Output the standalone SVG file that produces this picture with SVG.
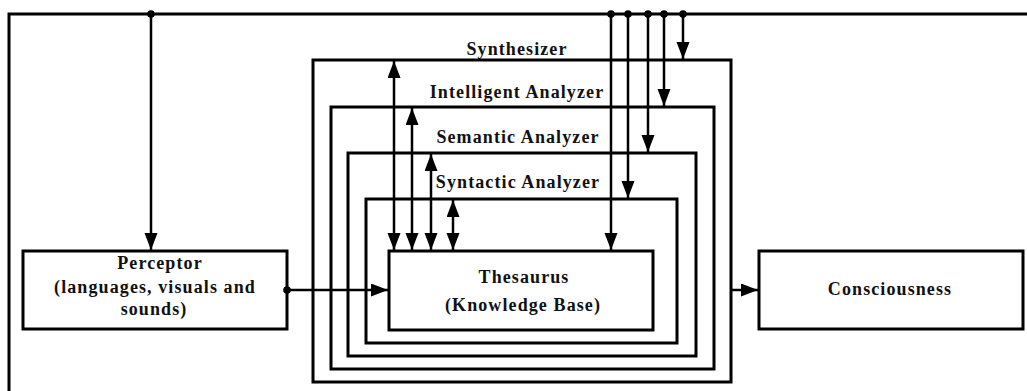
<svg xmlns="http://www.w3.org/2000/svg" width="1027" height="391" viewBox="0 0 1027 391">
  <defs>
    <marker id="arrow" markerUnits="userSpaceOnUse" markerWidth="18" markerHeight="14" refX="17" refY="6.5" orient="auto-start-reverse">
      <path d="M0,0 L17,6.5 L0,13 z" fill="#000"/>
    </marker>
  </defs>
  <style>
    .box { fill: #fff; stroke: #000; stroke-width: 3; }
    .frame { fill: none; stroke: #000; stroke-width: 3; }
    .wire { fill: none; stroke: #000; stroke-width: 2.5; }
    .arr { marker-end: url(#arrow); }
    .dbl { marker-start: url(#arrow); marker-end: url(#arrow); }
    .dot { fill: #000; }
    text { font-family: "Liberation Serif", "Times New Roman", serif; font-weight: bold; font-size: 18px; fill: #111; text-anchor: middle; letter-spacing: 1.1px; }
  </style>

  <!-- nested processing layers -->
  <g id="synthesizer">
    <rect class="box" x="313" y="60" width="418" height="322"/>
    <text x="517" y="55">Synthesizer</text>
  </g>
  <g id="intelligent-analyzer">
    <rect class="box" x="331" y="107" width="383" height="262"/>
    <text x="517" y="98">Intelligent Analyzer</text>
  </g>
  <g id="semantic-analyzer">
    <rect class="box" x="348" y="153" width="348" height="203"/>
    <text x="518" y="143">Semantic Analyzer</text>
  </g>
  <g id="syntactic-analyzer">
    <rect class="box" x="366" y="199" width="311" height="144"/>
    <text x="518" y="188">Syntactic Analyzer</text>
  </g>
  <g id="thesaurus">
    <rect class="box" x="389" y="251" width="264" height="79"/>
    <text x="524" y="283">Thesaurus</text>
    <text x="523" y="311">(Knowledge Base)</text>
  </g>

  <g id="perceptor">
    <rect class="box" x="23" y="251" width="264" height="78"/>
    <text x="160" y="269">Perceptor</text>
    <text x="155" y="293">(languages, visuals and</text>
    <text x="154" y="315">sounds)</text>
  </g>

  <g id="consciousness">
    <rect class="box" x="759" y="251" width="264" height="78"/>
    <text x="890" y="295">Consciousness</text>
  </g>

  <g id="connectors">
    <!-- feedback bus along the top and left edge -->
    <path class="frame" d="M9,391 L9,14 L1027,14"/>
    <circle class="dot" cx="151" cy="14" r="3.8"/>
    <circle class="dot" cx="611" cy="14" r="3.8"/>
    <circle class="dot" cx="628" cy="14" r="3.8"/>
    <circle class="dot" cx="648" cy="14" r="3.8"/>
    <circle class="dot" cx="664" cy="14" r="3.8"/>
    <circle class="dot" cx="683" cy="14" r="3.8"/>

    <!-- bus to perceptor -->
    <line class="wire arr" x1="151" y1="14" x2="151" y2="250"/>

    <!-- bus down into each layer -->
    <line class="wire arr" x1="611" y1="14" x2="611" y2="250"/>
    <line class="wire arr" x1="628" y1="14" x2="628" y2="198"/>
    <line class="wire arr" x1="648" y1="14" x2="648" y2="152"/>
    <line class="wire arr" x1="664" y1="14" x2="664" y2="106"/>
    <line class="wire arr" x1="683" y1="14" x2="683" y2="59"/>

    <!-- thesaurus exchanges with each layer -->
    <line class="wire dbl" x1="394" y1="250" x2="394" y2="61"/>
    <line class="wire dbl" x1="412" y1="250" x2="412" y2="108"/>
    <line class="wire dbl" x1="431" y1="250" x2="431" y2="154"/>
    <line class="wire dbl" x1="453" y1="250" x2="453" y2="200"/>

    <!-- perceptor to thesaurus -->
    <circle class="dot" cx="287" cy="290" r="3.8"/>
    <line class="wire arr" x1="287" y1="290" x2="388" y2="290"/>

    <!-- synthesizer to consciousness -->
    <line class="wire arr" x1="731" y1="290" x2="758" y2="290"/>
  </g>
</svg>
